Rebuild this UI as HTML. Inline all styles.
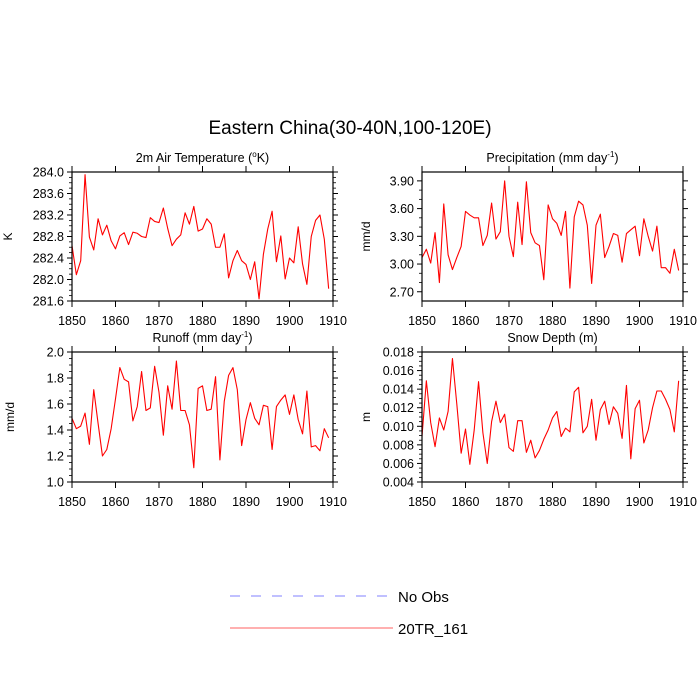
<!DOCTYPE html>
<html><head><meta charset="utf-8"><style>
body{margin:0;background:#fff;}
svg{display:block;font-family:"Liberation Sans",sans-serif;}
</style></head><body>
<svg id="c" width="700" height="700" viewBox="0 0 700 700">
<text x="350" y="134" font-size="19" text-anchor="middle">Eastern China(30-40N,100-120E)</text>
<g>
<line x1="230" y1="596" x2="387" y2="596" stroke="#8080ff" stroke-width="1" stroke-dasharray="10,11"/>
<text x="398" y="602" font-size="15">No Obs</text>
<line x1="230" y1="628" x2="393" y2="628" stroke="#ff6060" stroke-width="1"/>
<text x="398" y="634" font-size="15">20TR_161</text>
</g>
</svg>
<script>
const years = Array.from({length:60},(_,i)=>1850+i);
const tempValues = [282.63,282.09,282.35,283.95,282.79,282.55,283.13,282.83,283.01,282.72,282.57,282.81,282.87,282.65,282.88,282.86,282.80,282.78,283.15,283.08,283.06,283.33,282.95,282.63,282.75,282.83,283.24,283.03,283.36,282.90,282.94,283.13,283.03,282.60,282.60,282.85,282.03,282.35,282.54,282.35,282.28,282.00,282.33,281.64,282.47,282.94,283.27,282.33,282.81,282.01,282.40,282.31,282.98,282.29,281.91,282.80,283.10,283.20,282.75,281.83];
const precipValues = [3.07,3.16,3.01,3.34,2.80,3.65,3.10,2.94,3.07,3.19,3.57,3.53,3.50,3.50,3.20,3.31,3.66,3.27,3.35,3.90,3.30,3.08,3.67,3.21,3.89,3.34,3.23,3.20,2.83,3.64,3.49,3.44,3.31,3.57,2.74,3.51,3.68,3.64,3.42,2.79,3.42,3.54,3.07,3.19,3.33,3.31,3.02,3.33,3.37,3.41,3.09,3.49,3.30,3.14,3.41,2.96,2.96,2.90,3.16,2.93];
const runoffValues = [1.49,1.41,1.43,1.53,1.29,1.71,1.45,1.20,1.25,1.41,1.64,1.88,1.79,1.77,1.47,1.58,1.85,1.55,1.57,1.89,1.69,1.36,1.74,1.56,1.93,1.55,1.55,1.44,1.11,1.72,1.74,1.55,1.56,1.81,1.17,1.62,1.82,1.88,1.71,1.28,1.48,1.61,1.49,1.44,1.59,1.58,1.25,1.58,1.63,1.67,1.52,1.67,1.48,1.37,1.70,1.27,1.28,1.24,1.41,1.34];
const snowValues = [0.0089,0.0149,0.0104,0.0078,0.0109,0.0096,0.0116,0.0173,0.0124,0.0071,0.0097,0.0059,0.0096,0.0148,0.0093,0.0060,0.0105,0.0127,0.0104,0.0113,0.0077,0.0073,0.0106,0.0106,0.0072,0.0085,0.0066,0.0074,0.0086,0.0096,0.0109,0.0116,0.0089,0.0098,0.0094,0.0137,0.0142,0.0093,0.0100,0.0129,0.0085,0.0118,0.0127,0.0102,0.0121,0.0114,0.0087,0.0144,0.0065,0.0119,0.0128,0.0082,0.0096,0.0120,0.0138,0.0138,0.0129,0.0118,0.0094,0.0149];
const xTicks = [1850,1860,1870,1880,1890,1900,1910];
const tempTicks = [281.6,282.0,282.4,282.8,283.2,283.6,284.0];
const precipTicks = [2.7,3.0,3.3,3.6,3.9];
const runoffTicks = [1.0,1.2,1.4,1.6,1.8,2.0];
const snowTicks = [0.004,0.006,0.008,0.010,0.012,0.014,0.016,0.018];

const NS="http://www.w3.org/2000/svg";
const svg=document.getElementById('c');
function mk(tag,attrs,parent){const e=document.createElementNS(NS,tag);for(const k in attrs)e.setAttribute(k,attrs[k]);(parent||svg).appendChild(e);return e;}

function panel(o){
  const g=mk('g',{});
  
  
  const xs=v=>o.x0+(v-1850)/60*(o.x1-o.x0);
  const ys=v=>o.y1-(v-o.vmin)/(o.vmax-o.vmin)*(o.y1-o.y0);
  // minor y ticks
  for(let k=0;k<o.ticks.length-1;k++){
    for(let m=1;m<o.minor;m++){
      const v=o.ticks[k]+(o.ticks[k+1]-o.ticks[k])*m/o.minor;
      const y=ys(v);
      const l1=mk('line',{x1:o.x0-3,x2:o.x0,y1:y,y2:y,stroke:'#000','stroke-width':0.8},g);
      
      
      const l2=mk('line',{x1:o.x1,x2:o.x1+3,y1:y,y2:y,stroke:'#000','stroke-width':0.8},g);
      
      
    }
  }
  o.ticks.forEach((v,i)=>{
    const y=ys(v);
    const l1=mk('line',{x1:o.x0-5,x2:o.x0,y1:y,y2:y,stroke:'#000','stroke-width':1},g);
    
    
    const l2=mk('line',{x1:o.x1,x2:o.x1+5,y1:y,y2:y,stroke:'#000','stroke-width':1},g);
    
    
    const t=mk('text',{x:o.x0-8,y:y+4.5,'font-size':12.5,'text-anchor':'end'},g);
    t.textContent=o.fmt(v);
    
    
  });
  xTicks.forEach(v=>{
    const x=xs(v);
    const a=mk('line',{x1:x,x2:x,y1:o.y1,y2:o.y1+6,stroke:'#000','stroke-width':1},g);
    
    
    const b=mk('line',{x1:x,x2:x,y1:o.y0-6,y2:o.y0,stroke:'#000','stroke-width':1},g);
    
    
    const t=mk('text',{x:x,y:o.y1+24,'font-size':12.5,'text-anchor':'middle'},g);
    t.textContent=String(v);
    
    
  });
  const pts=o.values.map((v,i)=>xs(years[i]).toFixed(2)+','+ys(v).toFixed(2)).join(' ');
  const pl=mk('polyline',{points:pts,fill:'none',stroke:'#ff0000','stroke-width':1.1,'stroke-linejoin':'round'},g);
  
  
  const r=mk('rect',{x:o.x0,y:o.y0,width:o.x1-o.x0,height:o.y1-o.y0,fill:'none',stroke:'#000','stroke-width':1.2},g);
  
  
  const tt=mk('text',{x:(o.x0+o.x1)/2,y:o.y0-10,'font-size':12.5,'text-anchor':'middle'},g);
  tt.innerHTML=o.title;
  
  
  const yt=mk('text',{x:0,y:0,'font-size':12,'text-anchor':'middle',transform:`translate(${o.ylx},${(o.y0+o.y1)/2}) rotate(-90)`},g);
  yt.textContent=o.ylabel;
  
  
}
panel({name:'panel-air-temperature',x0:72,x1:333,y0:172,y1:301,vmin:281.6,vmax:284.0,ticks:tempTicks,minor:4,values:tempValues,fmt:v=>v.toFixed(1),
  title:'2m Air Temperature (<tspan font-size="8" dy="-5">o</tspan><tspan dy="5">K)</tspan>',ylabel:'K',ylx:12});
panel({name:'panel-precipitation',x0:422,x1:683,y0:172,y1:301,vmin:2.6,vmax:3.996,ticks:precipTicks,minor:3,values:precipValues,fmt:v=>v.toFixed(2),
  title:'Precipitation (mm day<tspan font-size="8" dy="-5">-1</tspan><tspan dy="5">)</tspan>',ylabel:'mm/d',ylx:370});
panel({name:'panel-runoff',x0:72,x1:333,y0:352,y1:482,vmin:1.0,vmax:2.0,ticks:runoffTicks,minor:4,values:runoffValues,fmt:v=>v.toFixed(1),
  title:'Runoff (mm day<tspan font-size="8" dy="-5">-1</tspan><tspan dy="5">)</tspan>',ylabel:'mm/d',ylx:14});
panel({name:'panel-snow-depth',x0:422,x1:683,y0:352,y1:482,vmin:0.004,vmax:0.018,ticks:snowTicks,minor:4,values:snowValues,fmt:v=>v.toFixed(3),
  title:'Snow Depth (m)',ylabel:'m',ylx:370});
</script>
</body></html>
